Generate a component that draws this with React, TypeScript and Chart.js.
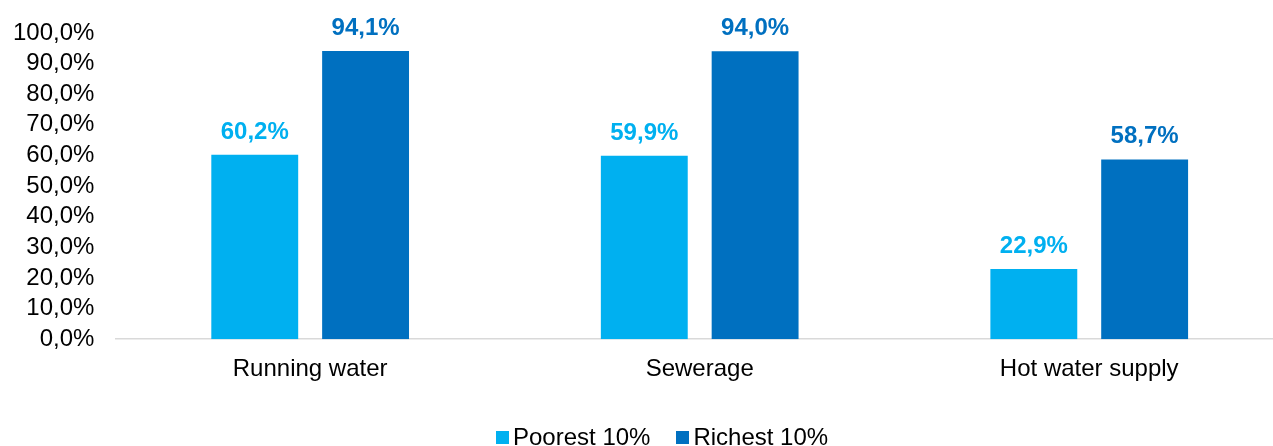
import React, { useEffect, useRef } from "react";
import { Chart, registerables } from "chart.js";

Chart.register(...registerables);

const categories = ["Running water", "Sewerage", "Hot water supply"];
const poorest = [60.2, 59.9, 22.9];
const richest = [94.1, 94.0, 58.7];
const seriesNames = ["Poorest 10%", "Richest 10%"];
const colors = ["#00B0F0", "#0070C0"];

const FONT = "'Liberation Sans', Arial, sans-serif";
const fmt = (v: number) => v.toFixed(1).replace(".", ",") + "%";

const labelPlugin = {
  id: "barLabels",
  afterDatasetsDraw(chart: any) {
    const ctx = chart.ctx;
    ctx.save();
    ctx.font = `bold 24px ${FONT}`;
    ctx.textAlign = "center";
    ctx.textBaseline = "alphabetic";
    chart.data.datasets.forEach((ds: any, di: number) => {
      const meta = chart.getDatasetMeta(di);
      meta.data.forEach((bar: any, i: number) => {
        ctx.fillStyle = colors[di];
        ctx.fillText(fmt(ds.data[i]), bar.x, bar.y - 16);
      });
    });
    ctx.restore();
  },
};

export default function App() {
  const ref = useRef<HTMLCanvasElement>(null);
  useEffect(() => {
    document.body.style.margin = "0";
    const chart = new Chart(ref.current!, {
      type: "bar",
      data: {
        labels: categories,
        datasets: [
          { label: seriesNames[0], data: poorest, backgroundColor: colors[0] },
          { label: seriesNames[1], data: richest, backgroundColor: colors[1] },
        ],
      },
      options: {
        animation: false,
        responsive: false,
        maintainAspectRatio: false,
        layout: { padding: { top: 26, right: 6, left: -8, bottom: 46 } },
        datasets: {
          bar: { categoryPercentage: 0.569, barPercentage: 0.784 },
        },
        scales: {
          x: {
            grid: { display: false, drawTicks: false },
            border: { color: "#D9D9D9", width: 1.5 },
            ticks: { color: "#000", font: { family: FONT, size: 24 }, padding: 16, autoSkip: false, maxRotation: 0 },
          },
          y: {
            min: 0,
            max: 100,
            grid: { display: false, drawTicks: false },
            border: { display: false },
            ticks: {
              stepSize: 10,
              autoSkip: false,
              color: "#000",
              font: { family: FONT, size: 24, lineHeight: 1 },
              padding: 21,
              callback: (v: any) => fmt(Number(v)),
            },
          },
        },
        plugins: {
          legend: { display: false },
          tooltip: { enabled: false },
        },
      },
      plugins: [labelPlugin],
    });
    return () => chart.destroy();
  }, []);
  const item = (i: number) => (
    <div key={i} style={{ display: "flex", alignItems: "center", marginRight: i === 0 ? 26 : 0 }}>
      <span style={{ width: 13, height: 13, background: colors[i], display: "inline-block", marginRight: 4 }} />
      <span style={{ fontFamily: FONT, fontSize: 24, color: "#000", lineHeight: "28px" }}>{seriesNames[i]}</span>
    </div>
  );
  return (
    <div style={{ position: "relative", width: 1273, height: 446, overflow: "hidden" }}>
      <canvas ref={ref} width={1290} height={446} />
      <div style={{ position: "absolute", left: 496, top: 423, display: "flex" }}>
        {item(0)}
        {item(1)}
      </div>
    </div>
  );
}
